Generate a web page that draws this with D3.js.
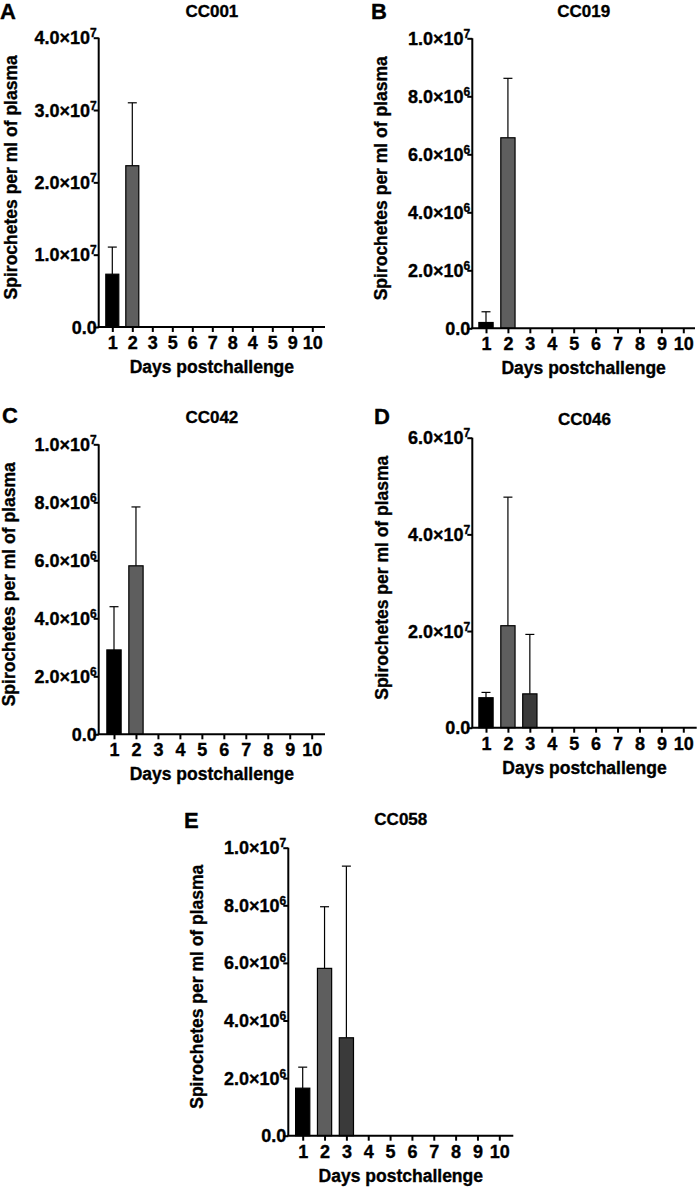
<!DOCTYPE html>
<html>
<head>
<meta charset="utf-8">
<script src="https://cdn.jsdelivr.net/npm/d3@7"></script>
<style>
  html, body { margin: 0; padding: 0; background: #fff; }
  svg text { font-family: "Liberation Sans", Arial, sans-serif; font-weight: bold; fill: #000; stroke: #000; stroke-width: 0.35px; }
</style>
</head>
<body>
<svg id="chart" width="700" height="1187"></svg>
<script>
// ---------------- DATA ----------------
const panelLetters = ["A", "B", "C", "D", "E"];
const panelTitles = ["CC001", "CC019", "CC042", "CC046", "CC058"];

const daysA = ["1", "2", "3", "5", "6", "7", "8", "4", "5", "9", "10"];
const daysStd = ["1", "2", "3", "4", "5", "6", "7", "8", "9", "10"];

// mean spirochetes per ml of plasma
const meanA = [7.3e6, 2.23e7, 0, 0, 0, 0, 0, 0, 0, 0, 0];
const meanB = [0.2e6, 6.57e6, 0, 0, 0, 0, 0, 0, 0, 0];
const meanC = [2.91e6, 5.81e6, 0, 0, 0, 0, 0, 0, 0, 0];
const meanD = [6.2e6, 2.11e7, 7.0e6, 0, 0, 0, 0, 0, 0, 0];
const meanE = [1.65e6, 5.81e6, 3.40e6, 0, 0, 0, 0, 0, 0, 0];

// upper error (SD)
const errA = [3.75e6, 8.7e6, 0, 0, 0, 0, 0, 0, 0, 0, 0];
const errB = [0.37e6, 2.05e6, 0, 0, 0, 0, 0, 0, 0, 0];
const errC = [1.49e6, 2.03e6, 0, 0, 0, 0, 0, 0, 0, 0];
const errD = [1.1e6, 2.66e7, 1.23e7, 0, 0, 0, 0, 0, 0, 0];
const errE = [0.73e6, 2.14e6, 5.96e6, 0, 0, 0, 0, 0, 0, 0];

// y-axis ticks
const ticksA = [0, 1e7, 2e7, 3e7, 4e7];
const ticksB = [0, 2e6, 4e6, 6e6, 8e6, 1e7];
const ticksC = [0, 2e6, 4e6, 6e6, 8e6, 1e7];
const ticksD = [0, 2e7, 4e7, 6e7];
const ticksE = [0, 2e6, 4e6, 6e6, 8e6, 1e7];

const yLabel = "Spirochetes per ml of plasma";
const xLabel = "Days postchallenge";

const barColors = ["#000000", "#5e5e5e", "#3a3a3a"];

// ---------------- LAYOUT ----------------
const layouts = [
  { x0: 98.7, x1: 325, yTop: 37.7, yBot: 327, first: 112.3, last: 312.3,
    letter: [0, 19], title: 17, ylab: 16.5 },
  { x0: 472.3, x1: 695, yTop: 38.3, yBot: 328.3, first: 486, last: 683.3,
    letter: [371, 19], title: 17, ylab: 386.5 },
  { x0: 98.7, x1: 325, yTop: 444.3, yBot: 734.3, first: 114, last: 311.7,
    letter: [2, 423], title: 423, ylab: 14.7 },
  { x0: 472.3, x1: 696.7, yTop: 437.7, yBot: 727.7, first: 486, last: 683.3,
    letter: [374, 424], title: 425, ylab: 388 },
  { x0: 288.3, x1: 513.3, yTop: 847.7, yBot: 1135.7, first: 302.7, last: 499.3,
    letter: [184, 828], title: 825, ylab: 203 }
];

const panelData = [
  { days: daysA, mean: meanA, err: errA, ticks: ticksA },
  { days: daysStd, mean: meanB, err: errB, ticks: ticksB },
  { days: daysStd, mean: meanC, err: errC, ticks: ticksC },
  { days: daysStd, mean: meanD, err: errD, ticks: ticksD },
  { days: daysStd, mean: meanE, err: errE, ticks: ticksE }
];

const svg = d3.select("#chart");

function tickLabel(sel, v) {
  if (v === 0) { sel.text("0.0"); return; }
  const exp = Math.floor(Math.log10(v) + 1e-9);
  const mant = v / Math.pow(10, exp);
  sel.append("tspan").text(mant.toFixed(1) + "×10");
  sel.append("tspan").attr("font-size", 12).attr("dy", -7).text(exp);
}

panelData.forEach((pd, i) => {
  const L = layouts[i];
  const g = svg.append("g");
  const idx = pd.days.map((d, k) => k);
  const x = d3.scalePoint().domain(idx).range([L.first, L.last]);
  const step = x.step();
  const bw = step * 0.65;
  const yMax = pd.ticks[pd.ticks.length - 1];
  const y = d3.scaleLinear().domain([0, yMax]).range([L.yBot, L.yTop]);

  // panel letter & title
  g.append("text").attr("x", L.letter[0]).attr("y", L.letter[1])
    .attr("font-size", 22).text(panelLetters[i]);
  g.append("text").attr("x", (L.x0 + L.x1) / 2).attr("y", L.title)
    .attr("text-anchor", "middle").attr("font-size", 17).text(panelTitles[i]);

  // error bars (upper only)
  const eb = g.append("g").attr("stroke", "#000").attr("stroke-width", 1.2).attr("fill", "none");
  idx.forEach(k => {
    if (pd.mean[k] <= 0) return;
    const cx = x(k);
    const top = y(pd.mean[k] + pd.err[k]);
    eb.append("line").attr("x1", cx).attr("x2", cx).attr("y1", y(pd.mean[k])).attr("y2", top);
    eb.append("line").attr("x1", cx - 4.5).attr("x2", cx + 4.5).attr("y1", top).attr("y2", top);
  });

  // bars
  g.append("g").selectAll("rect").data(idx.filter(k => pd.mean[k] > 0)).join("rect")
    .attr("x", k => x(k) - bw / 2)
    .attr("width", bw)
    .attr("y", k => y(pd.mean[k]))
    .attr("height", k => y(0) - y(pd.mean[k]))
    .attr("fill", k => barColors[k % barColors.length])
    .attr("stroke", "#000").attr("stroke-width", 1.2);

  // y axis
  const yAxis = d3.axisLeft(y).tickValues(pd.ticks).tickSize(5).tickFormat("");
  const ya = g.append("g").attr("transform", `translate(${L.x0},0)`).call(yAxis);
  ya.select(".domain").attr("d", `M0,${L.yTop}V${L.yBot}`).attr("stroke-width", 2);
  ya.selectAll(".tick line").attr("stroke-width", 2);
  pd.ticks.forEach(v => {
    const t = g.append("text").attr("x", L.x0 - 2).attr("y", y(v) + 6.5)
      .attr("text-anchor", "end").attr("font-size", 18);
    tickLabel(t, v);
  });

  // x axis
  const xAxis = d3.axisBottom(x).tickSize(5).tickFormat(k => pd.days[k]);
  const xa = g.append("g").attr("transform", `translate(0,${L.yBot})`).call(xAxis);
  xa.select(".domain").attr("d", `M${L.x0 - 1},0H${L.x1}`).attr("stroke-width", 2);
  xa.selectAll(".tick line").attr("stroke-width", 2);
  xa.selectAll(".tick text").attr("font-size", 18).attr("dy", 0).attr("y", 22)
    .attr("font-family", "Liberation Sans, Arial, sans-serif").attr("font-weight", "bold")
    .attr("fill", "#000").attr("stroke", "#000").attr("stroke-width", 0.35);

  // axis titles
  g.append("text").attr("x", (L.x0 + L.x1) / 2).attr("y", L.yBot + 46)
    .attr("text-anchor", "middle").attr("font-size", 17.5).text(xLabel);
  const yc = (L.yTop + L.yBot) / 2 - 5;
  g.append("text").attr("transform", `translate(${L.ylab},${yc}) rotate(-90)`)
    .attr("text-anchor", "middle").attr("font-size", 17.5).text(yLabel);
});
</script>
</body>
</html>
